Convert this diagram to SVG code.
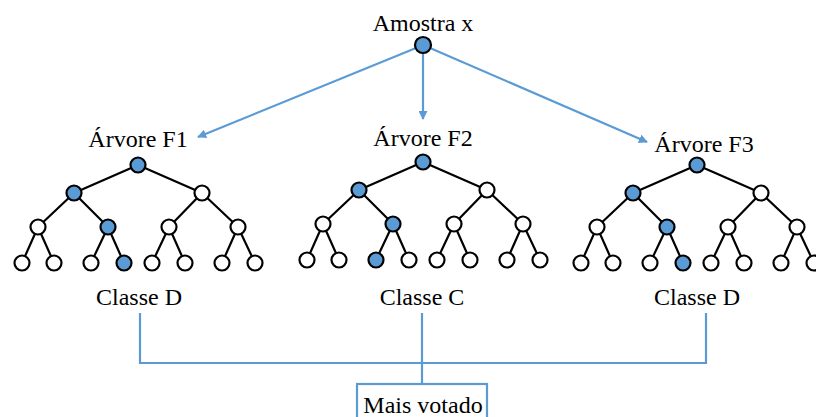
<svg xmlns="http://www.w3.org/2000/svg" width="816" height="417" viewBox="0 0 816 417">
<defs>
<style>
text{font-family:"Liberation Serif","Times New Roman",serif;font-size:24px;fill:#000;text-anchor:middle}
.e{stroke:#000;stroke-width:2.2;fill:none}
.n{stroke:#000;stroke-width:2.2;fill:#fff}
.b{fill:#5b9bd5}
.c{stroke:#5b9bd5;stroke-width:2.2;fill:none}
</style>
<marker id="ah" viewBox="0 0 10 10" refX="9" refY="5" markerWidth="9" markerHeight="9" markerUnits="userSpaceOnUse" orient="auto">
<path d="M0,0 L10,5 L0,10 z" fill="#5b9bd5"/>
</marker>
<g id="edges">
<path class="e" d="M0,0 L-64,28 M0,0 L64,28 M-64,28 L-100,62 M-64,28 L-30,62 M64,28 L31,62 M64,28 L100,62 M-100,62 L-116,98 M-100,62 L-84,98 M-30,62 L-47,98 M-30,62 L-14,98 M31,62 L14,98 M31,62 L47,98 M100,62 L84,98 M100,62 L117,98"/>
</g>
</defs>
<g id="connectors">
<line class="c" x1="416" y1="48" x2="198" y2="137" marker-end="url(#ah)"/>
<line class="c" x1="423" y1="53" x2="423" y2="119" marker-end="url(#ah)"/>
<line class="c" x1="430" y1="48" x2="647" y2="142" marker-end="url(#ah)"/>
<path class="c" d="M140,313 V363 H706 V313 M422,313 V384"/>
</g>
<g id="sample">
<text x="423" y="31">Amostra x</text>
<circle class="n b" cx="423" cy="45" r="8"/>
</g>
<g id="tree1">
<text x="138" y="147">Árvore F1</text>
<g transform="translate(138,165)">
<use href="#edges"/>
<circle class="n b" cx="0" cy="0" r="7.5"/>
<circle class="n b" cx="-64" cy="28" r="7.5"/>
<circle class="n" cx="64" cy="28" r="7.5"/>
<circle class="n" cx="-100" cy="62" r="7.5"/>
<circle class="n b" cx="-30" cy="62" r="7.5"/>
<circle class="n" cx="31" cy="62" r="7.5"/>
<circle class="n" cx="100" cy="62" r="7.5"/>
<circle class="n" cx="-116" cy="98" r="7.5"/>
<circle class="n" cx="-84" cy="98" r="7.5"/>
<circle class="n" cx="-47" cy="98" r="7.5"/>
<circle class="n b" cx="-14" cy="98" r="7.5"/>
<circle class="n" cx="14" cy="98" r="7.5"/>
<circle class="n" cx="47" cy="98" r="7.5"/>
<circle class="n" cx="84" cy="98" r="7.5"/>
<circle class="n" cx="117" cy="98" r="7.5"/>
</g>
<text x="139" y="305">Classe D</text>
</g>
<g id="tree2">
<text x="423" y="146">Árvore F2</text>
<g transform="translate(423,162)">
<use href="#edges"/>
<circle class="n b" cx="0" cy="0" r="7.5"/>
<circle class="n b" cx="-64" cy="28" r="7.5"/>
<circle class="n" cx="64" cy="28" r="7.5"/>
<circle class="n" cx="-100" cy="62" r="7.5"/>
<circle class="n b" cx="-30" cy="62" r="7.5"/>
<circle class="n" cx="31" cy="62" r="7.5"/>
<circle class="n" cx="100" cy="62" r="7.5"/>
<circle class="n" cx="-116" cy="98" r="7.5"/>
<circle class="n" cx="-84" cy="98" r="7.5"/>
<circle class="n b" cx="-47" cy="98" r="7.5"/>
<circle class="n" cx="-14" cy="98" r="7.5"/>
<circle class="n" cx="14" cy="98" r="7.5"/>
<circle class="n" cx="47" cy="98" r="7.5"/>
<circle class="n" cx="84" cy="98" r="7.5"/>
<circle class="n" cx="117" cy="98" r="7.5"/>
</g>
<text x="422" y="305">Classe C</text>
</g>
<g id="tree3">
<text x="704" y="152">Árvore F3</text>
<g transform="translate(697,165)">
<use href="#edges"/>
<circle class="n b" cx="0" cy="0" r="7.5"/>
<circle class="n b" cx="-64" cy="28" r="7.5"/>
<circle class="n" cx="64" cy="28" r="7.5"/>
<circle class="n" cx="-100" cy="62" r="7.5"/>
<circle class="n b" cx="-30" cy="62" r="7.5"/>
<circle class="n" cx="31" cy="62" r="7.5"/>
<circle class="n" cx="100" cy="62" r="7.5"/>
<circle class="n" cx="-116" cy="98" r="7.5"/>
<circle class="n" cx="-84" cy="98" r="7.5"/>
<circle class="n" cx="-47" cy="98" r="7.5"/>
<circle class="n b" cx="-14" cy="98" r="7.5"/>
<circle class="n" cx="14" cy="98" r="7.5"/>
<circle class="n" cx="47" cy="98" r="7.5"/>
<circle class="n" cx="84" cy="98" r="7.5"/>
<circle class="n" cx="117" cy="98" r="7.5"/>
</g>
<text x="697" y="305">Classe D</text>
</g>
<g id="result">
<rect class="c" x="357" y="384" width="130" height="40"/>
<text x="423" y="413">Mais votado</text>
</g>
</svg>
